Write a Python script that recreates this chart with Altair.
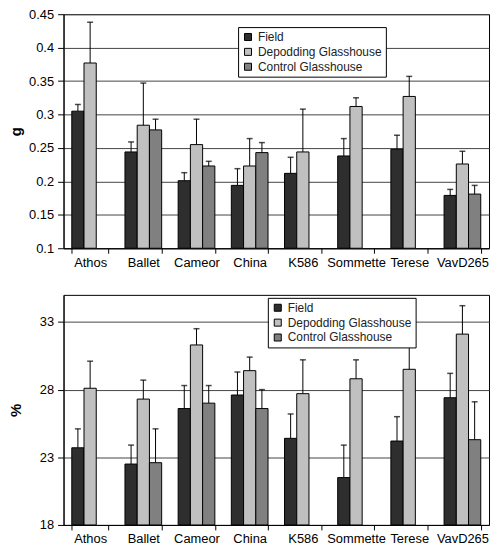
import altair as alt
import pandas as pd

categories = ["Athos", "Ballet", "Cameor", "China", "K586", "Sommette", "Terese", "VavD265"]
series = ["Field", "Depodding Glasshouse", "Control Glasshouse"]
colors = ["#2e2e2e", "#c0c0c0", "#808080"]

g_field = [0.305, 0.244, 0.201, 0.194, 0.212, 0.238, 0.248, 0.179]
g_field_hi = [0.315, 0.259, 0.213, 0.219, 0.236, 0.264, 0.269, 0.188]
g_depod = [0.377, 0.284, 0.255, 0.223, 0.244, 0.312, 0.327, 0.226]
g_depod_hi = [0.438, 0.347, 0.293, 0.264, 0.308, 0.325, 0.357, 0.245]
g_ctrl = [None, 0.277, 0.223, 0.243, None, None, None, 0.181]
g_ctrl_hi = [None, 0.293, 0.230, 0.258, None, None, None, 0.194]

p_field = [23.7, 22.5, 26.6, 27.6, 24.4, 21.5, 24.2, 27.4]
p_field_hi = [25.1, 23.9, 28.3, 29.3, 26.2, 23.9, 26.0, 29.2]
p_depod = [28.1, 27.3, 31.3, 29.4, 27.7, 28.8, 29.5, 32.1]
p_depod_hi = [30.1, 28.7, 32.5, 30.4, 30.2, 30.2, 32.0, 34.2]
p_ctrl = [None, 22.6, 27.0, 26.6, None, None, None, 24.3]
p_ctrl_hi = [None, 25.1, 28.3, 28.0, None, None, None, 27.1]

g_ticks = [0.1, 0.15, 0.2, 0.25, 0.3, 0.35, 0.4, 0.45]
p_ticks = [18, 23, 28, 33]

FONT = "Liberation Sans"


def build_df(vals, his):
    rows = []
    for s, v, h in zip(series, vals, his):
        for c, a, b in zip(categories, v, h):
            if a is not None:
                rows.append({"cat": c, "series": s, "value": a, "hi": b})
    return pd.DataFrame(rows)


def panel(df, domain, ticks, fmt, title, base, legx, legy, height):
    x = alt.X("cat:N", sort=categories, title=None,
              scale=alt.Scale(paddingInner=0.31, paddingOuter=0.155),
              axis=alt.Axis(labelAngle=0, tickBand="extent", labelFontSize=13,
                            labelFont=FONT, labelColor="black", labelPadding=3,
                            tickSize=5, tickColor="black", domainColor="black"))
    xo = alt.XOffset("series:N", sort=series, scale=alt.Scale(domain=series, paddingInner=0, paddingOuter=0))
    yscale = alt.Scale(domain=domain, zero=False, nice=False)
    yaxis = alt.Axis(values=ticks, format=fmt, title=title, titleFont=FONT,
                     titleFontSize=15, titleFontWeight="bold", titleColor="black",
                     titleAngle=270, titleX=-40, labelFontSize=13, labelFont=FONT,
                     labelColor="black", tickSize=6, tickColor="black",
                     domainColor="black", grid=True, gridColor="#444444",
                     gridWidth=1, labelPadding=4, labelOverlap=False)
    y = alt.Y("value:Q", scale=yscale, axis=yaxis)
    color = alt.Color("series:N", sort=series,
                      scale=alt.Scale(domain=series, range=colors),
                      legend=alt.Legend(orient="none", legendX=legx, legendY=legy,
                                        title=None, fillColor="white", strokeColor="black",
                                        padding=4, symbolType="square", symbolSize=50,
                                        symbolStrokeColor="black", symbolStrokeWidth=1,
                                        labelFont=FONT, labelFontSize=12, labelColor="#222222",
                                        rowPadding=3, labelOffset=4))
    bars = alt.Chart(df).mark_bar(stroke="black", strokeWidth=1).encode(
        x=x, xOffset=xo, y=y, y2=alt.datum(base), color=color)
    rules = alt.Chart(df).mark_rule(color="black", strokeWidth=1).encode(
        x=x, xOffset=xo, y=y, y2="hi:Q")
    caps = alt.Chart(df).mark_tick(color="black", orient="horizontal", size=6, thickness=1.5).encode(
        x=x, xOffset=xo, y=alt.Y("hi:Q", scale=yscale, axis=yaxis))
    return alt.layer(bars, rules, caps).properties(width=429, height=height)


top = panel(build_df([g_field, g_depod, g_ctrl], [g_field_hi, g_depod_hi, g_ctrl_hi]),
            [0.1, 0.45], g_ticks, "~g", "g", 0.1, 176, 13, 236)
bottom = panel(build_df([p_field, p_depod, p_ctrl], [p_field_hi, p_depod_hi, p_ctrl_hi]),
               [18, 35], p_ticks, "d", "%", 18, 206, 3, 232)

chart = alt.vconcat(top, bottom, spacing=24).resolve_legend(color="independent").resolve_scale(
    y="independent", color="independent").configure_view(stroke="black", strokeWidth=1).properties(
    padding={"left": 0, "top": -3, "right": 0, "bottom": 0}, background="white")

chart.save("out.html", embed_options={"renderer": "svg", "actions": False})
